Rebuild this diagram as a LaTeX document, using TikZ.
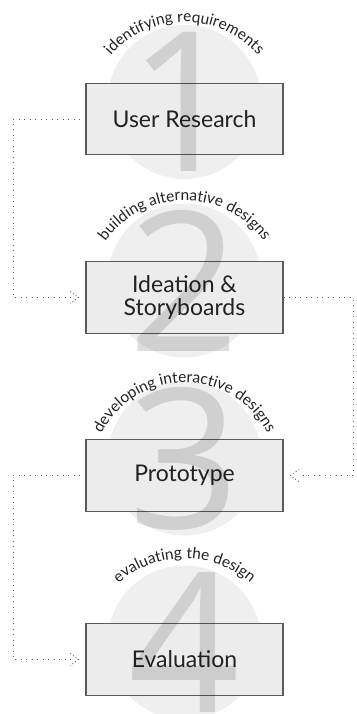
\documentclass[tikz,border=0pt]{standalone}
\usepackage{fontspec}
\setmainfont{Lato}
\newfontfamily\numeralfont{Open Sans}
\usepackage{tikz}
\usetikzlibrary{positioning,backgrounds,decorations.text,arrows.meta}
\definecolor{boxgray}{HTML}{ECECEC}
\definecolor{ringgray}{HTML}{EFEFEF}
\definecolor{edgegray}{HTML}{5A5A5A}
\definecolor{inkgray}{HTML}{222222}
\newcommand{\arcfont}{\fontsize{15.5}{17}\selectfont}

% open barb drawn with the same dots as the line
\pgfdeclarearrow{
  name = dotbarb,
  parameters = {\the\pgfarrowlength,\the\pgfarrowwidth},
  setup code = {
    \pgfarrowssettipend{0pt}
    \pgfarrowssetlineend{-\pgfarrowlength}
    \pgfarrowssetbackend{-\pgfarrowlength}
    \pgfarrowssavethe\pgfarrowlength
    \pgfarrowssavethe\pgfarrowwidth
  },
  drawing code = {
    \pgfsetdash{{0.9pt}{2.4pt}}{0pt}
    \pgfpathmoveto{\pgfqpoint{-\pgfarrowlength}{.5\pgfarrowwidth}}
    \pgfpathlineto{\pgfpointorigin}
    \pgfpathlineto{\pgfqpoint{-\pgfarrowlength}{-.5\pgfarrowwidth}}
    \pgfusepathqstroke
  },
  defaults = {length = 8pt, width = 12pt}
}

\begin{document}
\begin{tikzpicture}[
      x=1pt, y=1pt,
      stagebox/.style={draw=edgegray, line width=1.2pt, fill=boxgray,
        minimum width=197pt, minimum height=71.5pt, align=center,
        text=inkgray, font={\fontsize{23}{23}\selectfont}},
      ring/.style={circle, fill=ringgray, minimum size=154pt, inner sep=0},
      numeral/.style={inner sep=0, text=black, text opacity=0.13,
        font={\numeralfont\fontsize{195}{195}\selectfont}},
      arclabel/.style={decorate, decoration={text along path,
        text align=center, text color=inkgray, text={|\arcfont|#1}}},
      flow/.style={draw=edgegray, line width=0.9pt,
        dash pattern=on 0.9pt off 4.6pt, -dotbarb, shorten >=7pt}
  ]
  \useasboundingbox (0,0) rectangle (356,714);

  % the four stages
  \node[stagebox] (research) at (184.5,595) {User Research};
  \node[stagebox] (ideation) at (184.5,416.5) {Ideation \&\\Storyboards};
  \node[stagebox] (prototype) at (184.5,238.5) {Prototype};
  \node[stagebox] (evaluation) at (184.5,54.5) {Evaluation};

  \begin{scope}[on background layer]
    \node[ring] (ring1) at ([yshift=17pt]research.center) {};
    \node[ring] (ring2) at ([yshift=17pt]ideation.center) {};
    \node[ring] (ring3) at ([yshift=17pt]prototype.center) {};
    \node[ring] (ring4) at ([yshift=17pt]evaluation.center) {};
  \end{scope}

  \node[numeral] (num1) at (ring1) {1};
  \node[numeral] (num2) at (ring2) {2};
  \node[numeral] (num3) at (ring3) {3};
  \node[numeral] (num4) at (ring4) {4};

  % curved captions
  \path[arclabel={identifying requirements}]
    ([shift={(170:97pt)}]research.center) arc[start angle=170, end angle=10, radius=97pt];
  \path[arclabel={building alternative designs}]
    ([shift={(170:97pt)}]ideation.center) arc[start angle=170, end angle=10, radius=97pt];
  \path[arclabel={developing interactive designs}]
    ([shift={(170:93pt)}]prototype.center) arc[start angle=170, end angle=10, radius=93pt];
  \path[arclabel={evaluating the design}]
    ([shift={(170:101pt)}]evaluation.center) arc[start angle=170, end angle=10, radius=101pt];

  % dotted rails between stages
  \coordinate (lrail) at (13,0);
  \coordinate (rrail) at (353,0);
  \draw[flow] (research.west) -| (lrail |- ideation.west) -- (ideation.west);
  \draw[flow] (ideation.east) -| (rrail |- prototype.east) -- (prototype.east);
  \draw[flow] (prototype.west) -| (lrail |- evaluation.west) -- (evaluation.west);
\end{tikzpicture}
\end{document}
